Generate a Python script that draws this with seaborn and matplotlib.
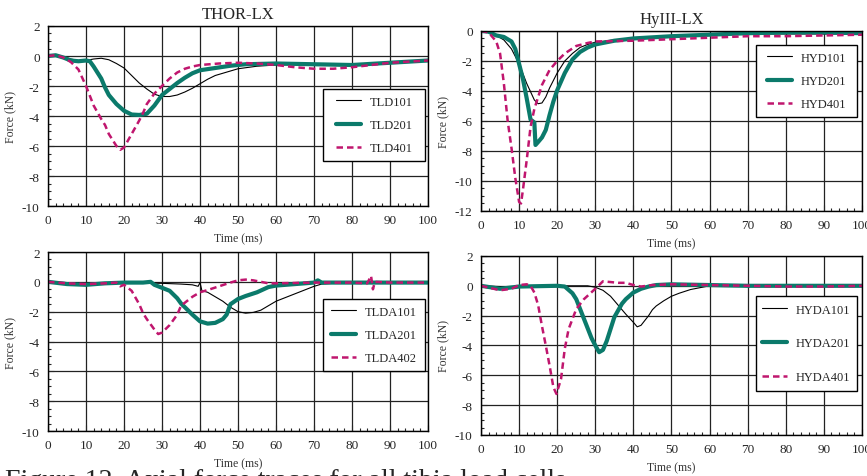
import numpy as np
import pandas as pd
import seaborn as sns
import matplotlib.pyplot as plt
from matplotlib.ticker import MultipleLocator
from matplotlib.patches import Rectangle

# THOR-LX upper tibia
tld101_t = [0, 2, 4, 6, 8, 10, 12, 14, 16, 18, 20, 22, 24, 26, 28, 30, 32, 34, 36, 38, 40, 42, 44, 46, 48, 50, 55, 60, 70, 80, 90, 100]
tld101_f = [0, 0.05, -0.05, -0.2, -0.3, -0.3, -0.2, -0.15, -0.25, -0.5, -0.8, -1.3, -1.8, -2.2, -2.55, -2.7, -2.7, -2.6, -2.4, -2.15, -1.85, -1.55, -1.3, -1.15, -1.0, -0.85, -0.68, -0.6, -0.55, -0.6, -0.45, -0.3]
tld201_t = [0, 2, 4, 6, 8, 10, 11, 12, 14, 15, 16, 18, 20, 22, 24, 26, 28, 30, 32, 34, 36, 38, 40, 44, 48, 52, 60, 70, 80, 90, 100]
tld201_f = [0, 0.05, -0.1, -0.3, -0.35, -0.3, -0.35, -0.7, -1.5, -2.1, -2.6, -3.2, -3.65, -3.9, -3.93, -3.85, -3.3, -2.6, -2.2, -1.8, -1.45, -1.15, -0.95, -0.8, -0.65, -0.55, -0.5, -0.55, -0.6, -0.45, -0.3]
tld401_t = [0, 2, 4, 6, 8, 10, 12, 14, 15, 16, 18, 19, 20, 22, 24, 25, 26, 28, 30, 32, 34, 36, 38, 40, 45, 50, 55, 60, 65, 70, 75, 80, 85, 90, 100]
tld401_f = [0, 0.05, -0.1, -0.4, -0.9, -2.0, -3.3, -4.2, -4.6, -5.2, -6.0, -6.25, -6.1, -5.2, -4.3, -3.8, -3.2, -2.5, -2.0, -1.5, -1.1, -0.85, -0.7, -0.6, -0.5, -0.45, -0.5, -0.6, -0.75, -0.85, -0.85, -0.75, -0.6, -0.45, -0.3]

# HyIII-LX upper tibia
hyd101_t = [0, 2, 4, 6, 8, 10, 12, 14, 15, 16, 17, 18, 20, 22, 24, 26, 28, 30, 35, 40, 50, 60, 70, 80, 90, 100]
hyd101_f = [0, -0.1, -0.3, -0.6, -1.2, -2.2, -3.5, -4.6, -4.85, -4.8, -4.4, -3.8, -2.8, -2.0, -1.5, -1.1, -0.9, -0.75, -0.6, -0.5, -0.35, -0.25, -0.2, -0.2, -0.2, -0.2]
hyd201_t = [0, 2, 4, 6, 8, 9, 10, 11, 12, 13, 14, 14.3, 15, 16, 17, 18, 19, 20, 22, 24, 26, 28, 30, 35, 40, 50, 60, 70, 80, 90, 100]
hyd201_f = [0, -0.05, -0.3, -0.4, -0.7, -1.2, -2.2, -3.2, -4.5, -5.9, -6.1, -7.6, -7.4, -7.1, -6.6, -5.6, -4.7, -3.95, -2.8, -1.9, -1.4, -1.1, -0.9, -0.65, -0.5, -0.35, -0.25, -0.15, -0.1, -0.1, -0.15]
hyd401_t = [0, 2, 4, 5, 6, 7, 8, 9, 10, 10.5, 11, 12, 13, 14, 15, 16, 18, 20, 22, 25, 28, 30, 40, 50, 60, 70, 80, 90, 100]
hyd401_f = [0, -0.1, -0.7, -1.5, -3.5, -6.0, -7.8, -9.8, -11.4, -11.5, -10.6, -8.6, -6.4, -5.2, -4.4, -3.6, -2.6, -2.0, -1.5, -1.0, -0.8, -0.7, -0.65, -0.55, -0.45, -0.35, -0.35, -0.3, -0.25]

# THOR-LX lower tibia
tlda101_t = [0, 5, 10, 20, 30, 35, 38, 39.5, 40, 40.5, 42, 44, 46, 48, 50, 52, 54, 56, 58, 60, 62, 64, 66, 68, 70, 72, 75, 80, 90, 100]
tlda101_f = [0, -0.05, -0.1, -0.05, -0.1, -0.15, -0.2, -0.3, -0.05, -0.6, -0.7, -1.0, -1.3, -1.7, -2.0, -2.1, -2.05, -1.9, -1.6, -1.3, -1.1, -0.9, -0.7, -0.5, -0.3, -0.15, -0.1, -0.05, -0.05, -0.05]
tlda201_t = [0, 5, 10, 15, 20, 25, 27, 28, 30, 32, 34, 35, 36, 38, 40, 42, 44, 46, 47, 48, 50, 52, 55, 58, 60, 65, 70, 71, 72, 80, 90, 100]
tlda201_f = [0, -0.15, -0.2, -0.1, -0.05, -0.05, 0.0, -0.2, -0.4, -0.6, -1.1, -1.45, -1.7, -2.2, -2.65, -2.8, -2.75, -2.5, -2.2, -1.5, -1.15, -0.95, -0.7, -0.35, -0.25, -0.15, -0.05, 0.1, -0.05, -0.05, -0.05, -0.05]
tlda402_t = [0, 5, 10, 15, 18, 19, 20, 22, 24, 25, 26, 28, 29, 30, 32, 34, 35, 36, 38, 40, 42, 45, 48, 50, 52, 54, 56, 58, 60, 70, 80, 84, 85, 85.5, 86, 90, 100]
tlda402_f = [0, -0.1, -0.15, -0.1, -0.05, -0.3, -0.2, -0.6, -1.5, -2.1, -2.5, -3.2, -3.5, -3.4, -2.9, -2.2, -1.6, -1.4, -1.0, -0.7, -0.55, -0.3, -0.05, 0.1, 0.15, 0.1, 0.0, -0.1, -0.1, -0.05, -0.05, -0.1, 0.4, -0.5, 0.0, -0.05, -0.05]

# HyIII-LX lower tibia
hyda101_t = [0, 10, 20, 28, 30, 32, 34, 35, 36, 38, 40, 41, 42, 44, 45, 46, 48, 50, 52, 55, 58, 60, 70, 80, 90, 100]
hyda101_f = [0, -0.1, 0.0, 0.0, -0.1, -0.3, -0.7, -1.0, -1.3, -1.9, -2.45, -2.75, -2.65, -2.0, -1.6, -1.35, -1.0, -0.7, -0.5, -0.25, -0.1, 0.0, 0.0, 0.0, 0.0, 0.0]
hyda201_t = [0, 5, 10, 20, 22, 24, 25, 27, 29, 30, 31, 32, 33, 35, 37, 38, 40, 42, 44, 46, 50, 60, 70, 80, 90, 100]
hyda201_f = [0, -0.2, -0.05, 0.0, -0.05, -0.5, -0.9, -2.2, -3.5, -4.0, -4.45, -4.3, -3.7, -2.1, -1.2, -0.9, -0.45, -0.2, -0.05, 0.05, 0.1, 0.05, 0.0, 0.0, 0.0, 0.0]
hyda401_t = [0, 5, 8, 10, 12, 13, 14, 15, 16, 17, 18, 19, 19.8, 21, 22, 23, 25, 27, 30, 32, 34, 36, 38, 40, 42, 45, 50, 60, 70, 80, 90, 100]
hyda401_f = [0, -0.3, -0.2, 0.05, 0.1, 0.0, -0.45, -1.3, -2.7, -4.0, -5.35, -6.8, -7.25, -6.25, -4.2, -2.9, -1.56, -0.9, -0.2, 0.3, 0.25, 0.2, 0.2, 0.05, -0.05, 0.05, 0.1, 0.05, 0.0, -0.05, -0.05, 0.0]

teal = '#0b7a6b'
magenta = '#c0166e'

sns.set_style('ticks')
plt.rcParams['font.family'] = ['Liberation Serif', 'DejaVu Serif']
plt.rcParams['axes.unicode_minus'] = False
plt.rcParams['xtick.direction'] = 'in'
plt.rcParams['ytick.direction'] = 'in'

fig = plt.figure(figsize=(8.67, 4.77), dpi=100)

panels = [
    # rect, ylim, title, series, legend box (axes coords), label spacing
    ([0.0554, 0.566, 0.4383, 0.3774], (-10, 2), 'THOR-LX',
     [(tld101_t, tld101_f, 'TLD101'), (tld201_t, tld201_f, 'TLD201'), (tld401_t, tld401_f, 'TLD401')],
     (0.724, 0.25, 0.268, 0.40), 0.9),
    ([0.5548, 0.5556, 0.4394, 0.3774], (-12, 0), 'HyIII-LX',
     [(hyd101_t, hyd101_f, 'HYD101'), (hyd201_t, hyd201_f, 'HYD201'), (hyd401_t, hyd401_f, 'HYD401')],
     (0.722, 0.522, 0.265, 0.40), 0.9),
    ([0.0554, 0.0943, 0.4383, 0.3753], (-10, 2), None,
     [(tlda101_t, tlda101_f, 'TLDA101'), (tlda201_t, tlda201_f, 'TLDA201'), (tlda402_t, tlda402_f, 'TLDA402')],
     (0.724, 0.335, 0.268, 0.402), 0.9),
    ([0.5548, 0.086, 0.4394, 0.3753], (-10, 2), None,
     [(hyda101_t, hyda101_f, 'HYDA101'), (hyda201_t, hyda201_f, 'HYDA201'), (hyda401_t, hyda401_f, 'HYDA401')],
     (0.722, 0.246, 0.265, 0.531), 1.75),
]

styles = [dict(color='black', lw=0.8),
          dict(color=teal, lw=3.0),
          dict(color=magenta, lw=1.8, linestyle=(0, (2.6, 1.6)))]

for rect, ylim, title, series, box, lspace in panels:
    ax = fig.add_axes(rect)
    for (t, f, name), st in zip(series, styles):
        df = pd.DataFrame({'Time': t, 'Force': f})
        sns.lineplot(data=df, x='Time', y='Force', ax=ax, label=name, **st)
    ax.set_xlim(0, 100)
    ax.set_ylim(*ylim)
    ax.xaxis.set_major_locator(MultipleLocator(10))
    ax.xaxis.set_minor_locator(MultipleLocator(2))
    ax.yaxis.set_major_locator(MultipleLocator(2))
    ax.yaxis.set_minor_locator(MultipleLocator(0.5))
    ax.tick_params(which='major', length=4, width=0.8, labelsize=9.5, pad=6)
    ax.tick_params(which='minor', length=2.5, width=0.8)
    ax.grid(True, which='major', color='#222222', lw=0.9)
    for s in ax.spines.values():
        s.set_color('black')
        s.set_linewidth(1.0)
    ax.set_xlabel('Time (ms)', fontsize=8.5, color='#333333', labelpad=4)
    ax.set_ylabel('Force (kN)', fontsize=8.5, color='#333333', labelpad=4)
    if title:
        ax.set_title(title, fontsize=12, pad=6)
    x0, y0, w, h = box
    ax.add_patch(Rectangle((x0, y0), w, h, transform=ax.transAxes, fc='white',
                           ec='black', lw=1.0, zorder=4.5))
    ax.legend(loc='center', bbox_to_anchor=(x0 + w / 2, y0 + h / 2), frameon=False,
              fontsize=9, handlelength=2.0, handletextpad=0.7, labelspacing=lspace)

# figure caption, cut off by the bottom edge as in the original page crop
fig.text(0.006, 0.016, 'Figure 12. Axial force traces for all tibia load cells',
         fontsize=20, va='top', ha='left')

fig.savefig('out.png', dpi=100)
